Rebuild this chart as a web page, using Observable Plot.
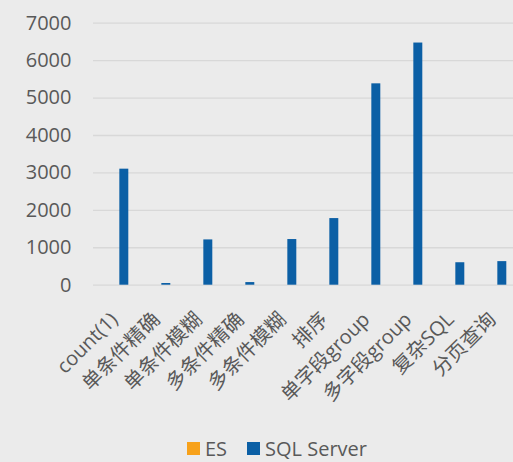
<!DOCTYPE html>
<html><head><meta charset="utf-8">
<script src="https://cdn.jsdelivr.net/npm/d3@7"></script>
<script src="https://cdn.jsdelivr.net/npm/@observablehq/plot@0.6"></script>
<style>
html,body{margin:0;padding:0;background:#ebebeb;}
body{width:513px;height:462px;overflow:hidden;font-family:"Open Sans","Noto Sans CJK SC",sans-serif;}
#chart svg{display:block;overflow:visible;}
.lg-swatches{font-family:"Open Sans","Noto Sans CJK SC",sans-serif !important;font-size:20px !important;color:#595959;margin:0 !important;padding-left:187px;padding-top:2px;}
.lg-swatch{margin-right:20px !important;}
.lg-swatch > svg{margin-right:5px !important;}
</style></head><body><div id="chart"></div>
<script>
const categories = ["count(1)","单条件精确","单条件模糊","多条件精确","多条件模糊","排序","单字段group","多字段group","复杂SQL","分页查询"];
const seriesNames = ["ES","SQL Server"];
const seriesColors = ["#f7a11a","#0b5fa5"];
const esValues = [0,0,0,0,0,0,0,0,0,0];
const sqlValues = [3100,45,1210,70,1220,1780,5380,6470,600,630];
const yTicks = [0,1000,2000,3000,4000,5000,6000,7000];

const esRows = categories.map((c,i)=>({cat:c, series:seriesNames[0], value:esValues[i]}));
const sqlRows = categories.map((c,i)=>({cat:c, series:seriesNames[1], value:sqlValues[i]}));

const font = '"Open Sans","Noto Sans CJK SC",sans-serif';
const H = 430;
const plot = Plot.plot({
  width: 513, height: H,
  marginLeft: 93, marginRight: 0, marginTop: 22.7, marginBottom: H - 284.7,
  style: {background:"transparent", fontFamily: font, fontSize:"20px", color:"#595959", overflow:"visible"},
  x: {domain: categories, range: [94.67, 521.33], padding: 0, label: null},
  y: {domain: [0,7000], label: null},
  color: {domain: seriesNames, range: seriesColors},
  marks: [
    Plot.ruleY(yTicks, {stroke:"#d8d8d8", strokeWidth:1.3}),
    Plot.axisY({ticks: yTicks, tickSize:0, tickPadding:22, label:null, fontSize:20, tickFormat: d=>String(d)}),
    Plot.axisX({tickSize:0, tickRotate:-45, tickPadding:31, dx:-5, label:null, fontSize:20}),
    Plot.barY(esRows, {x:"cat", y:"value", fill:"series", insetLeft:11.7, insetRight:21.33}),
    Plot.barY(sqlRows, {x:"cat", y:"value", fill:"series", insetLeft:21.33, insetRight:11.7})
  ]
});
document.getElementById("chart").appendChild(plot);
const legend = Plot.legend({color:{domain:seriesNames, range:seriesColors}, swatchSize:13, className:"lg"});
document.getElementById("chart").appendChild(legend);
</script></body></html>
